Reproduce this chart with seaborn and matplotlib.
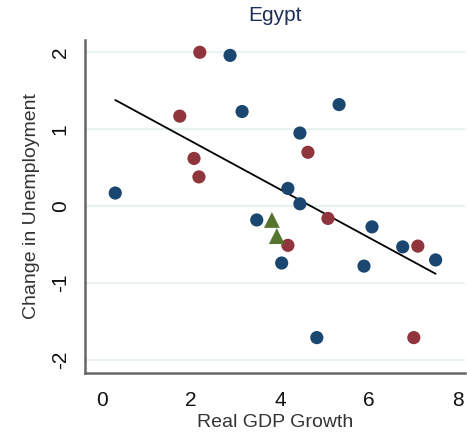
import numpy as np
import pandas as pd
import matplotlib
matplotlib.use("Agg")
import matplotlib.pyplot as plt
import seaborn as sns

# Data
blue_x = [0.30, 2.88, 3.15, 5.33, 4.45, 4.18, 4.45, 3.48, 4.04, 6.07, 5.89, 6.76, 7.50, 4.83]
blue_y = [0.17, 1.96, 1.23, 1.32, 0.95, 0.23, 0.03, -0.18, -0.74, -0.27, -0.78, -0.53, -0.70, -1.71]
red_x = [2.20, 1.75, 2.07, 2.18, 4.63, 4.18, 5.08, 7.10, 7.01]
red_y = [2.00, 1.17, 0.62, 0.38, 0.70, -0.51, -0.16, -0.52, -1.71]
green_x = [3.82, 3.93]
green_y = [-0.18, -0.39]
fit_x = [0.30, 7.50]
fit_y = [1.38, -0.88]
x_ticks = [0, 2, 4, 6, 8]
y_ticks = [-2, -1, 0, 1, 2]
title = "Egypt"
x_label = "Real GDP Growth"
y_label = "Change in Unemployment"

df = pd.DataFrame({
    "x": blue_x + red_x + green_x,
    "y": blue_y + red_y + green_y,
    "grp": ["a"] * len(blue_x) + ["b"] * len(red_x) + ["c"] * len(green_x),
})

sns.set_style("white")
plt.rcParams["font.family"] = ["Liberation Sans", "DejaVu Sans"]

fig = plt.figure(figsize=(4.67, 4.33), dpi=100)
ax = fig.add_axes([85 / 467, 1 - 373 / 433, 380 / 467, 333 / 433])

for yt in y_ticks:
    ax.axhline(yt, color="#eaf1f1", lw=1.6, zorder=0)

palette = {"a": "#1a476f", "b": "#90353b", "c": "#55752f"}
markers = {"a": "o", "b": "o", "c": "^"}
sns.scatterplot(data=df, x="x", y="y", hue="grp", style="grp", size="grp",
                sizes={"a": 90, "b": 90, "c": 130}, palette=palette,
                markers=markers, edgecolor="none", legend=False, ax=ax, zorder=3)

sns.lineplot(x=fit_x, y=fit_y, color="black", lw=1.3, ax=ax, zorder=2)

ax.set_xlim(-0.38, 8.16)
ax.set_ylim(-2.17, 2.16)
ax.set_xticks(x_ticks)
ax.set_yticks(y_ticks)
ax.set_xticklabels([str(t) for t in x_ticks], fontsize=15, color="#111111")
ax.set_yticklabels([str(t) for t in y_ticks], fontsize=15, color="#111111",
                   rotation=90, va="center")
for s in ["top", "right"]:
    ax.spines[s].set_visible(False)
for s in ["left", "bottom"]:
    ax.spines[s].set_color("#666666")
    ax.spines[s].set_linewidth(1.8)
ax.tick_params(axis="x", length=6, width=1.5, color="#777777", pad=7)
ax.tick_params(axis="y", length=6, width=1.5, color="#777777", pad=5)

ax.set_xlabel(x_label, fontsize=14, color="#333333", labelpad=3)
ax.set_ylabel(y_label, fontsize=14, color="#333333", labelpad=8)
ax.set_title(title, fontsize=15, color="#1f2d5a", pad=14)

fig.savefig("out.png", dpi=100)
